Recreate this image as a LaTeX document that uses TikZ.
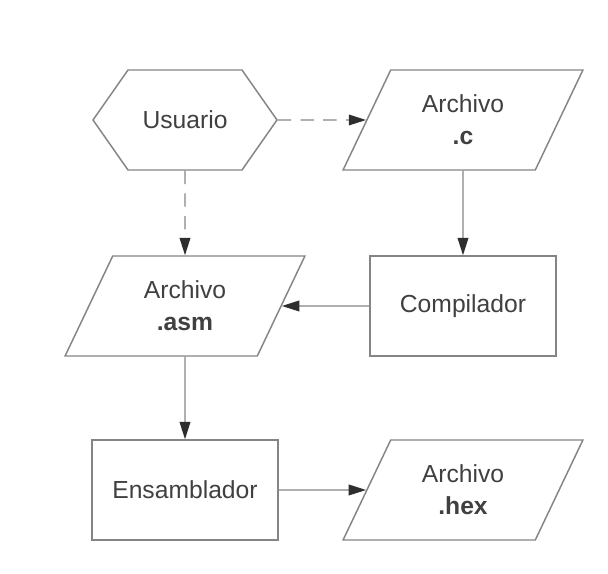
\documentclass[tikz,border=0pt]{standalone}
\usepackage{fontspec}
\setmainfont{Liberation Sans}
\usetikzlibrary{shapes.geometric,shapes.symbols,arrows.meta}

\definecolor{linegray}{HTML}{858585}
\definecolor{textgray}{HTML}{404040}
\definecolor{tipgray}{HTML}{2E2E2E}

\tikzset{
  base/.style={draw=linegray, line width=1.1pt, fill=white, text=textgray,
    font=\fontsize{18.5}{24}\selectfont, align=center, inner sep=0pt},
  proc/.style={base, rectangle, minimum width=139.5pt, minimum height=75pt},
  datafile/.style={base, trapezium, trapezium left angle=61.6, trapezium right angle=118.4,
    trapezium stretches=true, minimum width=180pt, minimum height=75pt},
  actor/.style={base, signal, signal to=east and west, signal pointer angle=110,
    minimum width=138pt, minimum height=75pt},
  flow/.style={draw=linegray, line width=1.1pt,
    -{Triangle[length=13pt,width=8pt,color=tipgray]}},
  optflow/.style={flow, dash pattern=on 10pt off 7pt},
}

\begin{document}
\begin{tikzpicture}[x=0.75pt, y=0.75pt]
    \useasboundingbox (0,0) rectangle (608,574);

    % top row
    \node[actor] (usr) at (185,454) {Usuario};
    \node[datafile] (archc) at (463,454) {Archivo\\\textbf{.c}};

    % middle row
    \node[datafile] (archasm) at (185,268) {Archivo\\\textbf{.asm}};
    \node[proc] (comp) at (463,268) {Compilador};

    % bottom row
    \node[proc] (ens) at (185,84) {Ensamblador};
    \node[datafile] (archhex) at (463,84) {Archivo\\\textbf{.hex}};

    % connectors
    \draw[optflow] (usr.east) -- (archc);
    \draw[optflow] (usr.south) -- (archasm);
    \draw[flow] (archc) -- (comp);
    \draw[flow] (comp) -- (archasm);
    \draw[flow] (archasm) -- (ens);
    \draw[flow] (ens) -- (archhex);
\end{tikzpicture}
\end{document}
